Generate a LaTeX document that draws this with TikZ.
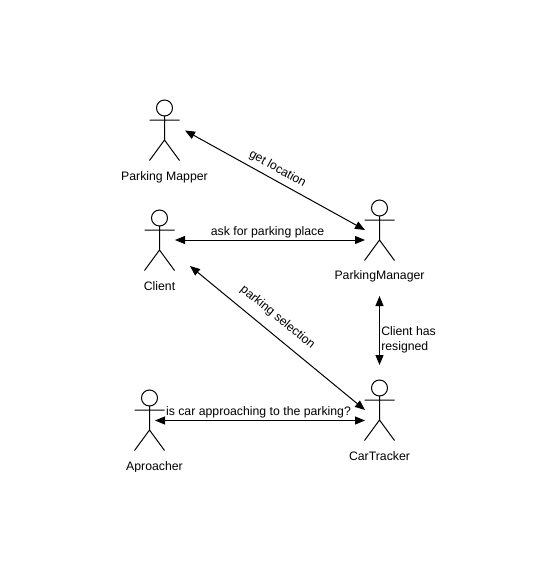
\documentclass[tikz,border=0pt]{standalone}
\usepackage{fontspec}
\setmainfont{Liberation Sans}
\usetikzlibrary{arrows.meta}
\tikzset{
  linkline/.style={draw=black,line width=0.75pt,{Triangle[length=7.5pt,width=6pt]}-{Triangle[length=7.5pt,width=6pt]}},
  lbl/.style={inner sep=0pt,font=\fontsize{9.2}{11.25}\selectfont,text=black},
  actor/.pic={
    \draw[line width=0.75pt,black] (0,0) circle (8);
    \draw[line width=0.75pt,black] (0,8) -- (0,32) (-15,12) -- (15,12) (-15,52.5) -- (0,32) -- (15,52.5);
  }
}
\begin{document}
\begin{tikzpicture}[x=0.75pt,y=-0.75pt]
\useasboundingbox (0,0) rectangle (550,571);
\fill[white] (0,0) rectangle (550,571);
\pic at (164.5,108) {actor};
\pic at (159.5,218) {actor};
\pic at (379.5,208) {actor};
\pic at (379.5,388) {actor};
\pic at (149.5,398) {actor};
\node[lbl] (mapperlabel) at (164.5,177) {Parking Mapper};
\node[lbl] (clientlabel) at (159.5,286.5) {Client};
\node[lbl] (managerlabel) at (379.5,276.2) {ParkingManager};
\node[lbl] (trackerlabel) at (379.5,456.2) {CarTracker};
\begin{scope}
\clip (0,0) rectangle (550,471);
\node[lbl] (aproacherlabel) at (154.5,467) {Aproacher};
\end{scope}
\coordinate (mapperport) at (185,130.5);
\coordinate (managerportA) at (365,230);
\coordinate (clientportA) at (175,240);
\coordinate (managerportB) at (365,240);
\coordinate (clientportB) at (190,266);
\coordinate (trackerportA) at (365,410);
\coordinate (managerportC) at (379.5,296);
\coordinate (trackerportB) at (379.5,365);
\coordinate (aproacherport) at (155,420.5);
\coordinate (trackerportC) at (365,420.5);
\draw[linkline] (mapperport) -- (managerportA);
\draw[linkline] (clientportA) -- (managerportB);
\draw[linkline] (clientportB) -- (trackerportA);
\draw[linkline] (managerportC) -- (trackerportB);
\draw[linkline] (aproacherport) -- (trackerportC);
\node[lbl,rotate=-29] (getloc) at (277.5,169) {get location};
\node[lbl] (askfor) at (267.5,232.5) {ask for parking place};
\node[lbl,rotate=-39.4] (parksel) at (277.5,317.5) {parking selection};
\node[lbl,align=left,anchor=west] (resigned) at (381,340) {Client has\\resigned};
\node[lbl] (approach) at (258.5,412.5) {is car approaching to the parking?};
\end{tikzpicture}
\end{document}
